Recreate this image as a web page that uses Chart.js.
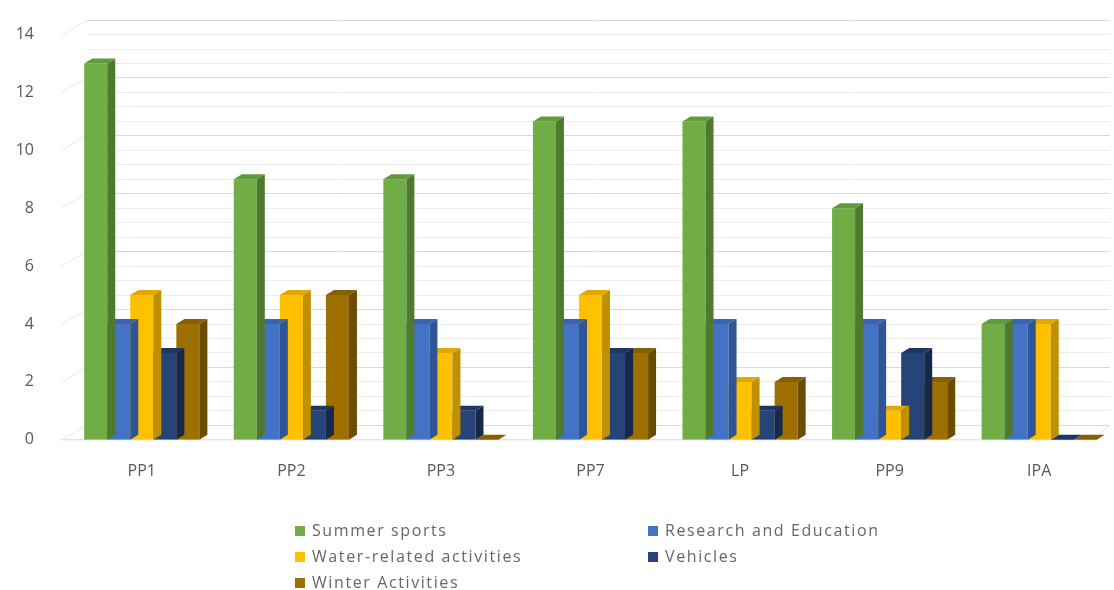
<!DOCTYPE html>
<html>
<head>
<meta charset="utf-8">
<script src="https://cdn.jsdelivr.net/npm/chart.js@4.4.0/dist/chart.umd.min.js"></script>
<style>
  body { margin: 0; background: #fff; }
  #wrap { position: relative; width: 1114px; height: 590px; }
  #legend { position: absolute; left: 295px; top: 520px; width: 640px; font-family: "Open Sans", sans-serif; font-size: 16px; color: #666; letter-spacing: 1.6px; }
  .item { position: absolute; white-space: nowrap; line-height: 20px; }
  .item span { display: inline-block; width: 10px; height: 10px; margin-right: 7px; vertical-align: 0px; }
</style>
</head>
<body>
<div id="wrap">
  <canvas id="chart"></canvas>
  <div id="legend"></div>
</div>
<script>
// data
let categories = ["PP1", "PP2", "PP3", "PP7", "LP", "PP9", "IPA"];
let summerSports = [13, 9, 9, 11, 11, 8, 4];
let research = [4, 4, 4, 4, 4, 4, 4];
let waterActivities = [5, 5, 3, 5, 2, 1, 4];
let vehicles = [3, 1, 1, 3, 1, 3, 0];
let winterActivities = [4, 5, 0, 3, 2, 2, 0];
let seriesNames = ["Summer sports", "Research and Education", "Water-related activities", "Vehicles", "Winter Activities"];
let yTicks = [0, 2, 4, 6, 8, 10, 12, 14];

let fronts = ["#70ad47", "#4472c4", "#ffc000", "#264478", "#9e7000"];
let sides = ["#4e7a30", "#2f5597", "#bf9000", "#17294a", "#6b4c00"];
let tops = ["#5f9a3b", "#3a64b0", "#e0a800", "#1e3762", "#866000"];

let depthX = 8, depthY = 5;   // bar depth
let wallX = 20, wallY = 15;   // back wall offset

// back wall + floor + left wall lines, and the 3d faces of the bars
let wallPlugin = {
  id: "wall",
  beforeDatasetsDraw(chart) {
    let ctx = chart.ctx, y = chart.scales.y, a = chart.chartArea;
    ctx.save();
    ctx.lineWidth = 1;
    for (let v = 0; v <= 14; v += 0.5) {
      let py = Math.round(y.getPixelForValue(v)) + 0.5;
      let major = v % 2 == 0;
      ctx.strokeStyle = major ? "#d9d9d9" : "#ececec";
      ctx.beginPath();
      ctx.moveTo(a.left + wallX, py - wallY);
      ctx.lineTo(a.right - 4, py - wallY);
      ctx.stroke();
      if (major) {
        ctx.strokeStyle = "#e4e8f2";
        ctx.beginPath();
        ctx.moveTo(a.left - 6, py);
        ctx.lineTo(a.left + wallX, py - wallY);
        ctx.stroke();
      }
    }
    // floor
    let p0 = y.getPixelForValue(0);
    ctx.strokeStyle = "#d9d9d9";
    ctx.beginPath();
    ctx.moveTo(a.left - 6, p0);
    ctx.lineTo(a.right - 20, p0);
    ctx.lineTo(a.right - 4, p0 - wallY);
    ctx.stroke();
    ctx.restore();
  },
  afterDatasetDraw(chart, args) {
    let ctx = chart.ctx;
    let i = args.index;
    let meta = chart.getDatasetMeta(i);
    ctx.save();
    meta.data.forEach(bar => {
      let p = bar.getProps(["x", "y", "base", "width"], true);
      let l = p.x - p.width / 2, r = p.x + p.width / 2;
      let top = Math.min(p.y, p.base), bot = Math.max(p.y, p.base);
      // side face
      ctx.fillStyle = sides[i];
      ctx.beginPath();
      ctx.moveTo(r, bot);
      ctx.lineTo(r, top);
      ctx.lineTo(r + depthX, top - depthY);
      ctx.lineTo(r + depthX, bot - depthY);
      ctx.closePath();
      ctx.fill();
      // top face
      ctx.fillStyle = tops[i];
      ctx.beginPath();
      ctx.moveTo(l, top);
      ctx.lineTo(r, top);
      ctx.lineTo(r + depthX, top - depthY);
      ctx.lineTo(l + depthX, top - depthY);
      ctx.closePath();
      ctx.fill();
    });
    ctx.restore();
  }
};

let allSeries = [summerSports, research, waterActivities, vehicles, winterActivities];

new Chart(document.getElementById("chart"), {
  type: "bar",
  data: {
    labels: categories,
    datasets: allSeries.map((d, i) => ({
      label: seriesNames[i],
      data: d,
      backgroundColor: fronts[i],
      borderWidth: 0,
      barPercentage: 1,
      categoryPercentage: 0.77,
    })),
  },
  options: {
    responsive: true,
    maintainAspectRatio: false,
    animation: false,
    layout: { padding: { top: 30, bottom: 95, left: 0, right: 0 } },
    plugins: {
      legend: { display: false },
      tooltip: { enabled: false },
    },
    scales: {
      x: {
        grid: { display: false },
        border: { display: false },
        ticks: { color: "#595959", font: { family: "Open Sans", size: 16 }, padding: 14 },
      },
      y: {
        min: 0,
        max: 14,
        afterBuildTicks: s => { s.ticks = yTicks.map(v => ({ value: v })); },
        afterFit: s => { s.width = 67; },
        grid: { display: false },
        border: { display: false },
        ticks: { color: "#595959", font: { family: "Open Sans", size: 16 }, padding: 25 },
      },
    },
  },
  plugins: [wallPlugin],
});

// legend in two columns like the picture
let legend = document.getElementById("legend");
seriesNames.forEach((name, i) => {
  let el = document.createElement("div");
  el.className = "item";
  el.style.left = (i % 2 == 0 ? 0 : 353) + "px";
  el.style.top = (Math.floor(i / 2) * 26) + "px";
  el.innerHTML = '<span style="background:' + fronts[i] + '"></span>' + name;
  legend.appendChild(el);
});
</script>
</body>
</html>
